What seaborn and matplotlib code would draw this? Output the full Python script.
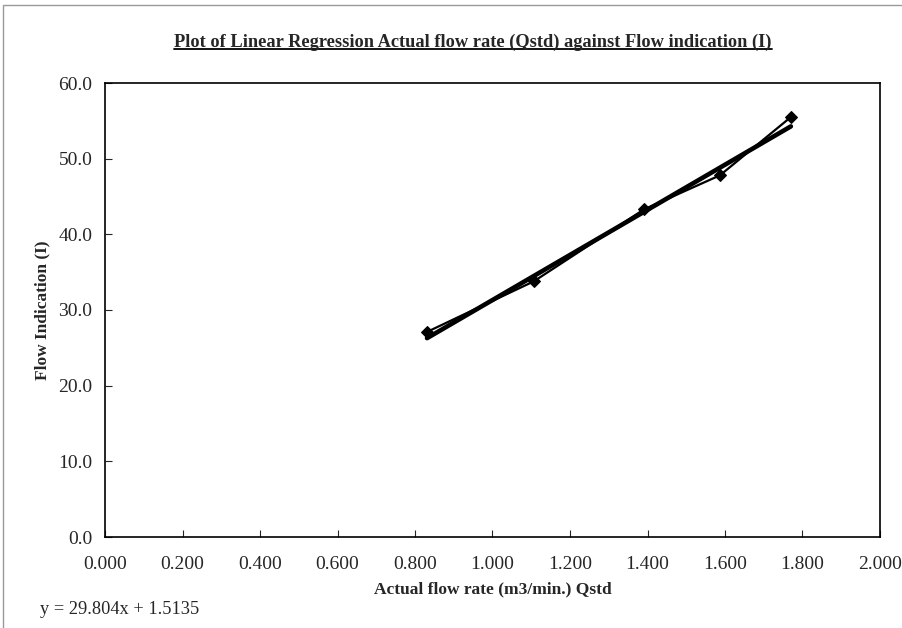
import numpy as np
import pandas as pd
import matplotlib
matplotlib.use("Agg")
import matplotlib.pyplot as plt
import seaborn as sns
from matplotlib.patches import Rectangle
from matplotlib.lines import Line2D

### DATA ###
flow_rate = [0.831, 1.107, 1.391, 1.587, 1.770]   # Qstd (m3/min.)
flow_ind = [27.1, 33.8, 43.3, 47.8, 55.5]         # I
slope = 29.804
intercept = 1.5135
title = "Plot of Linear Regression Actual flow rate (Qstd) against Flow indication (I)"
x_label = "Actual flow rate (m3/min.) Qstd"
y_label = "Flow Indication (I)"
eq_text = "y = 29.804x + 1.5135"

data = pd.DataFrame({"Qstd": flow_rate, "I": flow_ind})
#! fitted line from the trendline equation
xfit = np.array([min(flow_rate), max(flow_rate)])
fit = pd.DataFrame({"Qstd": xfit, "I": slope * xfit + intercept})

sns.set_style("white")
plt.rcParams["font.family"] = ["Liberation Serif", "DejaVu Serif"]

fig = plt.figure(figsize=(9.03, 6.28), dpi=100)
ax = fig.add_axes([105 / 903, 1 - 537 / 628, 775 / 903, 454 / 628])

sns.lineplot(x="Qstd", y="I", data=data, color="black", linewidth=1.6,
             marker="D", markersize=6.5, markeredgecolor="black", ax=ax)
sns.lineplot(x="Qstd", y="I", data=fit, color="black", linewidth=3.3, ax=ax)

ax.set_xlim(0, 2)
ax.set_ylim(0, 60)
ax.set_xticks(np.arange(0, 2.001, 0.2))
ax.set_xticklabels(["%.3f" % v for v in np.arange(0, 2.001, 0.2)])
ax.set_yticks(np.arange(0, 60.1, 10))
ax.set_yticklabels(["%.1f" % v for v in np.arange(0, 60.1, 10)])
ax.tick_params(axis="x", direction="in", length=5, width=0.8, pad=14,
               labelsize=14, bottom=True)
ax.tick_params(axis="y", direction="in", length=5, width=0.8, pad=9,
               labelsize=14, left=True)
for s in ax.spines.values():
    s.set_color("black")
    s.set_linewidth(1.2)

ax.set_xlabel(x_label, fontsize=12.5, fontweight="bold", labelpad=6)
ax.set_ylabel(y_label, fontsize=12.5, fontweight="bold", labelpad=6)

#! underlined title
t = fig.text(473 / 903, 1 - 42 / 628, title, ha="center", va="center",
             fontsize=13.2, fontweight="bold")
fig.canvas.draw()
bb = t.get_window_extent().transformed(fig.transFigure.inverted())
fig.add_artist(Line2D([bb.x0, bb.x1], [bb.y0 + 0.002, bb.y0 + 0.002],
                      transform=fig.transFigure, color="black", linewidth=1.3))

fig.text(40 / 903, 1 - 610 / 628, eq_text, ha="left", va="center", fontsize=13.2)

#! outer chart border
fig.add_artist(Rectangle((3 / 903, -0.01), 1.0, 1 - 5 / 628 + 0.01,
                         transform=fig.transFigure, fill=False,
                         edgecolor="#999999", linewidth=1))

ax.set_facecolor("white")
fig.savefig("out.png", dpi=100)
